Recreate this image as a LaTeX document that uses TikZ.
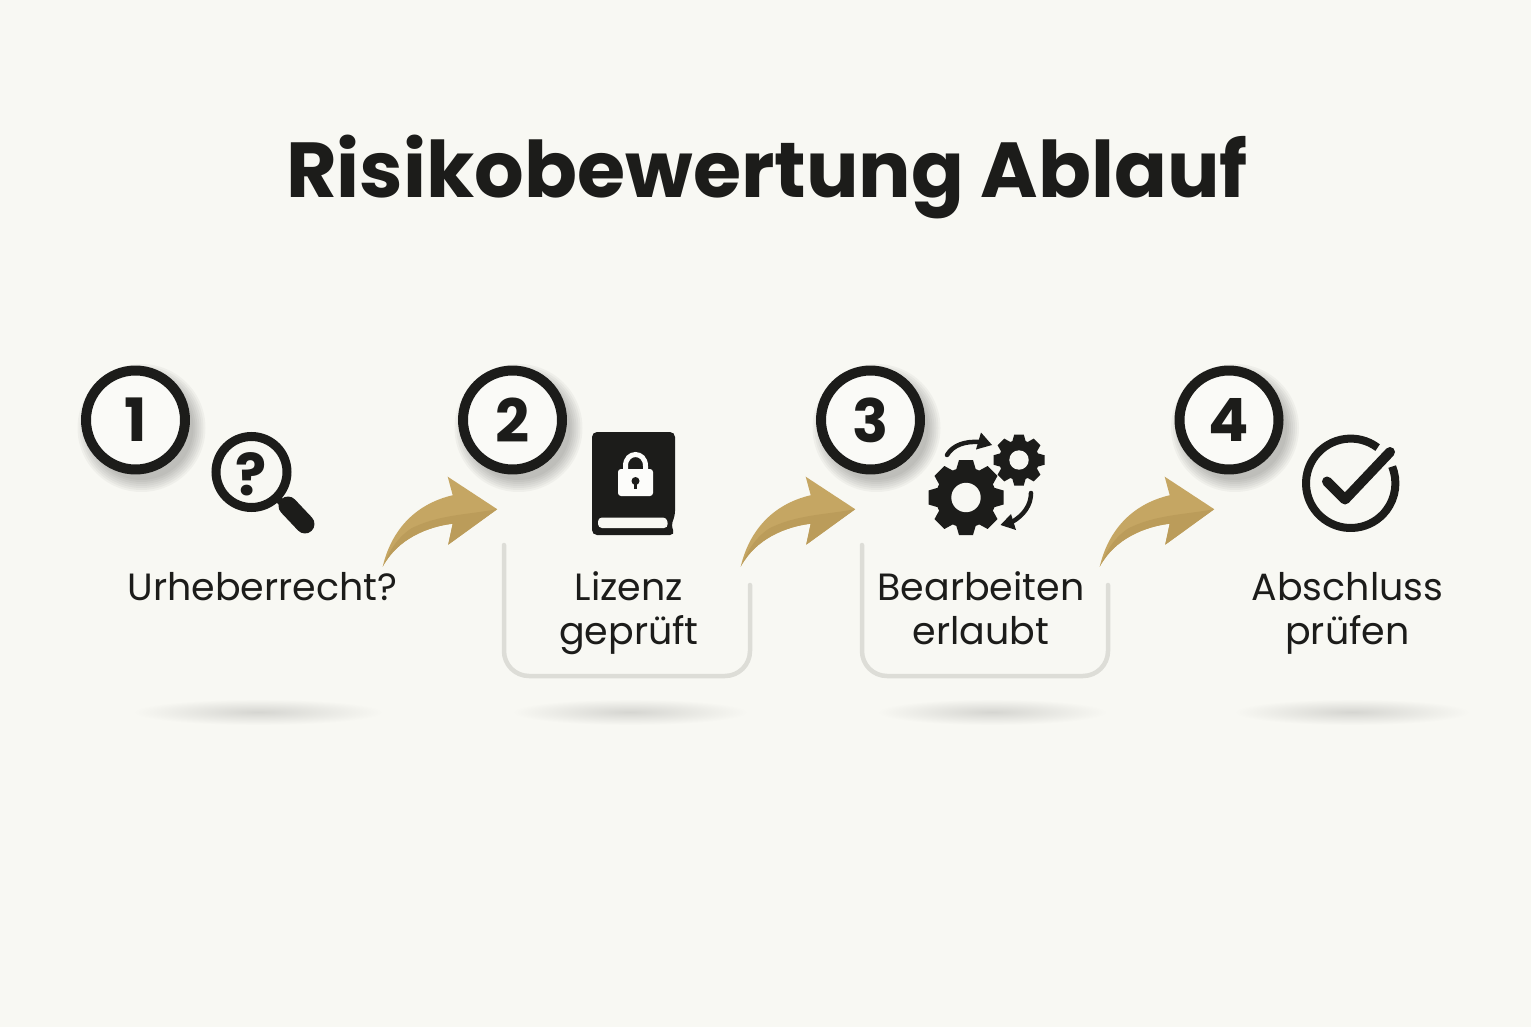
\documentclass[tikz,border=0pt]{standalone}
\usepackage{xcolor}
\usepackage{fontspec}
\setmainfont{Poppins}
\definecolor{paper}{HTML}{F8F8F3}
\definecolor{ink}{HTML}{1C1C1A}
\definecolor{gold}{HTML}{C5A663}
\definecolor{golddark}{HTML}{BB9C5A}
\definecolor{tray}{HTML}{DDDDD7}
\tikzset{
  stepring/.style={circle,draw=ink,fill=white!30!paper,line width=0.2cm,minimum size=1.98cm,inner sep=0pt,text=ink,font=\fontsize{34}{34}\selectfont\bfseries},
  steplabel/.style={text=ink,align=center,inner sep=0pt,font=\fontsize{21.6}{25}\selectfont},
  titlelabel/.style={text=ink,inner sep=0pt,font=\fontsize{44.4}{44.4}\selectfont\bfseries},
  traybox/.style={draw=tray,line width=0.09cm,rounded corners=0.5cm,line cap=round},
  goldarrow/.pic={
    \fill[gold] (0,0) .. controls (8,-34) and (30,-62) .. (70,-71.5) -- (65,-90) -- (114.5,-57.5) -- (65.5,-22) -- (70,-43) .. controls (45,-40) and (15,-28) .. (0,0) -- cycle;
    \fill[golddark] (0,0) .. controls (8,-18) and (14,-28) .. (28,-38) .. controls (55,-52) and (85,-52) .. (114.5,-57.5) -- (65.5,-22) -- (70,-43) .. controls (45,-40) and (15,-28) .. (0,0) -- cycle;
  }
}
\begin{document}
\begin{tikzpicture}[x=0.02cm,y=-0.02cm]
  \useasboundingbox (0,0) rectangle (1531,1027);
  \fill[paper] (0,0) rectangle (1531,1027);
  \node[titlelabel,anchor=base] (title) at (767,198) {Risikobewertung Ablauf};
  % ground shadows
  \foreach \x/\w in {258/125,630/118,992/115,1352/118}
    \shade[inner color=black!14!paper,outer color=paper] (\x,712) ellipse ({\w} and 13);
  % trays
  \foreach \d in {0,358}
    \draw[traybox] (504+\d,545) -- (504+\d,676) -- (750+\d,676) -- (750+\d,585);
  % numbered rings
  \foreach \n/\x in {1/135.5,2/512.5,3/870.5,4/1229} {
    \foreach \r in {52,54,...,64}
      \fill[black,opacity=0.035] (\x+6,428) circle (\r);
    \node[stepring] (step\n) at (\x,420) {\n};
  }
  % magnifier
  \draw[ink,line width=0.18cm] (251.5,472) circle (35.5);
  \draw[ink,line width=0.14cm] (276,497) -- (286,507);
  \draw[ink,line width=0.38cm,line cap=round] (288,506) -- (305,524);
  \node[text=ink,inner sep=0pt,font=\fontsize{33}{33}\selectfont\bfseries] (query) at (251,474) {?};
  % book with lock
  \fill[ink,rounded corners=0.1cm] (592,535) -- (592,432) -- (675,432) -- (675,516) -- (671,525) -- (675,535) -- cycle;
  \fill[paper,rounded corners=0.08cm] (598,517.5) -- (667,517.5) -- (668,528) -- (598,528) -- cycle;
  \fill[white!55!paper,rounded corners=0.06cm] (618,469) rectangle (653,496);
  \draw[white!55!paper,line width=0.1cm] (625.5,470) -- (625.5,466) .. controls (625.5,450.7) and (645.5,450.7) .. (645.5,466) -- (645.5,470);
  \fill[ink] (635.5,481) circle (4);
  \fill[ink] (634,482) rectangle (637,489);
  % gears
  \foreach \cx/\cy/\rr/\ro/\tw/\hr in {966/497.5/30/37.5/14/14.7,1019/460/20/25.5/9.5/9.7} {
    \fill[ink] (\cx,\cy) circle (\rr);
    \foreach \a in {0,45,...,315}
      \fill[ink,shift={(\cx,\cy)},rotate=\a] ({-0.72*\tw},{-0.9*\rr}) -- ({-0.5*\tw},{-\ro}) -- ({0.5*\tw},{-\ro}) -- ({0.72*\tw},{-0.9*\rr}) -- cycle;
    \fill[paper] (\cx,\cy) circle (\hr);
  }
  \draw[ink,line width=0.09cm,line cap=round] (947,455) .. controls (953,445) and (965,441) .. (980,442);
  \fill[ink] (992,445) -- (981,432.5) -- (976,449.5) -- cycle;
  \draw[ink,line width=0.09cm,line cap=round] (1031,493) .. controls (1031,505) and (1024,515) .. (1012,522);
  \fill[ink] (1000.5,525) -- (1011,514) -- (1016,530) -- cycle;
  % check mark
  \draw[ink,line width=0.16cm] (1350.7,483.3) ++(-53:44.7) arc (-53:-382:44.7);
  \draw[ink,line width=0.2cm,line cap=round,line join=round] (1327,481.5) -- (1345,499.5) -- (1390,452);
  % labels
  \node[steplabel] (label1) at (262.5,587) {Urheberrecht?};
  \node[steplabel] (label2) at (629,613) {Lizenz\\geprüft};
  \node[steplabel] (label3) at (981,608) {Bearbeiten\\erlaubt};
  \node[steplabel] (label4) at (1347.5,613) {Abschluss\\prüfen};
  % gold arrows
  \pic (arrow1) at (382.7,566.7) {goldarrow};
  \pic (arrow2) at (740.7,566.7) {goldarrow};
  \pic (arrow3) at (1099.7,566.7) {goldarrow};
\end{tikzpicture}
\end{document}
